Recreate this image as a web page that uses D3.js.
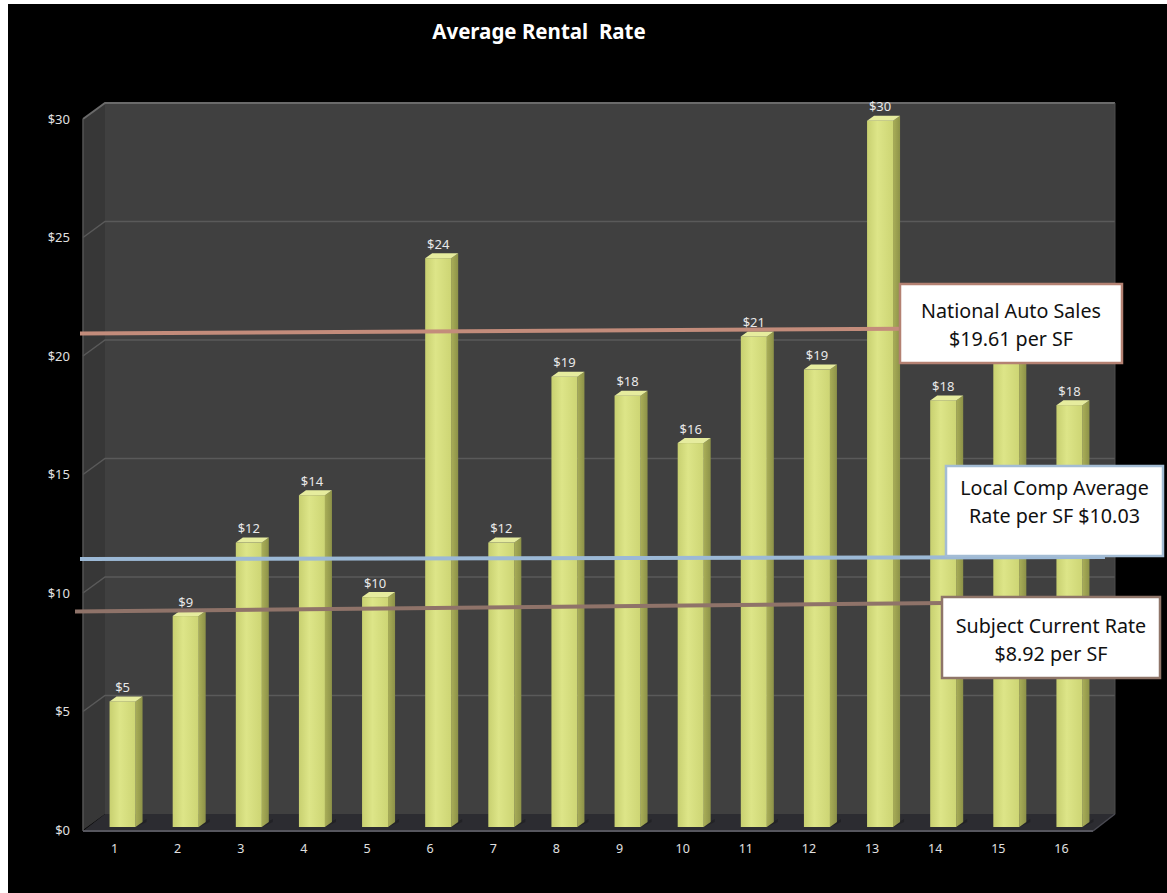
<!DOCTYPE html>
<html>
<head>
<meta charset="utf-8">
<script src="https://cdn.jsdelivr.net/npm/d3@7"></script>
<style>
  html, body { margin: 0; padding: 0; background: #ffffff; }
  svg { display: block; }
</style>
</head>
<body>
<svg id="chart" width="1167" height="893"></svg>
<script>
// ---------------- DATA ----------------
const title = "Average Rental  Rate";
const categories = ["1","2","3","4","5","6","7","8","9","10","11","12","13","14","15","16"];
const rentalRates = [5.3, 8.9, 12.0, 14.0, 9.7, 24.0, 12.0, 19.0, 18.2, 16.2, 20.7, 19.3, 29.8, 18.0, 20.3, 17.8];
const yTickValues = [0, 5, 10, 15, 20, 25, 30];
// annotation lines (hand-drawn in the original, so their value at left/right end)
const annotationNames = ["national", "local", "subject"];
const annotationText = [
  ["National Auto Sales", "$19.61 per SF"],
  ["Local Comp Average", "Rate per SF $10.03"],
  ["Subject Current Rate", "$8.92 per SF"]
];
const annotationLineStart = [20.95, 11.43, 9.22];
const annotationLineEnd = [21.15, 11.52, 9.58];

// ---------------- LAYOUT ----------------
const svg = d3.select("#chart");
const W = 1167, H = 893;
const font = "'Noto Sans', 'Open Sans', sans-serif";

svg.append("rect").attr("x", 8).attr("y", 4).attr("width", W - 8).attr("height", H - 4).attr("fill", "#000");

const x = d3.scaleBand().domain(categories).range([83, 1093]).paddingInner(0).paddingOuter(0);
const y = d3.scaleLinear().domain([0, 30]).range([830, 119]);
const DX = 22, DY = -16;          // depth offset for back wall
const right = 1093;

const boxStyle = {
  national: { color: "#c38c7b", x1: 80, x2: 902, box: [900, 284, 222, 79], border: "#b48172", base: 318 },
  local:    { color: "#9cb9d6", x1: 80, x2: 1105, box: [946, 466, 217, 90], border: "#a3bcd4", base: 495 },
  subject:  { color: "#8f7369", x1: 75, x2: 944, box: [942, 597, 218, 81], border: "#8f7569", base: 633 }
};

const defs = svg.append("defs");
const gFront = defs.append("linearGradient").attr("id", "barFront").attr("x1", 0).attr("x2", 1).attr("y1", 0).attr("y2", 0);
gFront.append("stop").attr("offset", "0%").attr("stop-color", "#c8d070");
gFront.append("stop").attr("offset", "40%").attr("stop-color", "#dde588");
gFront.append("stop").attr("offset", "100%").attr("stop-color", "#cdd574");
const gSide = defs.append("linearGradient").attr("id", "barSide").attr("x1", 0).attr("x2", 1).attr("y1", 0).attr("y2", 0);
gSide.append("stop").attr("offset", "0%").attr("stop-color", "#a9ae58");
gSide.append("stop").attr("offset", "100%").attr("stop-color", "#8d9248");

// side wall
svg.append("polygon")
  .attr("points", [[83, y(30)], [83 + DX, y(30) + DY], [83 + DX, y(0) + DY], [83, y(0)]].map(p => p.join(",")).join(" "))
  .attr("fill", "#373737");
// back wall
svg.append("rect")
  .attr("x", 83 + DX).attr("y", y(30) + DY)
  .attr("width", right - 83).attr("height", y(0) - y(30))
  .attr("fill", "#404040");
// floor
svg.append("polygon")
  .attr("points", [[83, y(0) + 1], [83 + DX, y(0) + DY], [right + DX, y(0) + DY], [right, y(0) + 1]].map(p => p.join(",")).join(" "))
  .attr("fill", "#2c2c31");

// gridlines (side + back)
const grid = svg.append("g");
yTickValues.filter(t => t > 0).forEach(t => {
  grid.append("polyline")
    .attr("points", [[83, y(t)], [83 + DX, y(t) + DY], [right + DX, y(t) + DY]].map(p => p.join(",")).join(" "))
    .attr("fill", "none")
    .attr("stroke", t === 30 ? "#6a6a6a" : "#5a5a5a")
    .attr("stroke-width", t === 30 ? 2 : 1.5);
});
svg.append("line").attr("x1", 83).attr("x2", 83).attr("y1", y(30)).attr("y2", y(0) + 1)
  .attr("stroke", "#555").attr("stroke-width", 1.5);
svg.append("line").attr("x1", 83).attr("x2", right).attr("y1", y(0) + 1).attr("y2", y(0) + 1)
  .attr("stroke", "#56565e").attr("stroke-width", 2);
svg.append("line").attr("x1", right).attr("x2", right + DX).attr("y1", y(0) + 1).attr("y2", y(0) + DY)
  .attr("stroke", "#4a4a52").attr("stroke-width", 1.5);
svg.append("line").attr("x1", right + DX).attr("x2", right + DX).attr("y1", y(30) + DY).attr("y2", y(0) + DY)
  .attr("stroke", "#4c4c4c").attr("stroke-width", 1);

// ---------------- BARS ----------------
const BW = 26, BD = 7, BR = 5, BOFF = 8, BY = -3;
const covered = (px, py) => Object.values(boxStyle).some(s => {
  const [bx, by, bw, bh] = s.box;
  return px > bx - 15 && px < bx + bw + 15 && py > by - 8 && py < by + bh + 8;
});
const bars = svg.append("g").selectAll("g").data(rentalRates.map((v, i) => ({ c: categories[i], v })))
  .join("g");
bars.each(function(d) {
  const g = d3.select(this);
  const xc = x(d.c) + x.bandwidth() / 2 + BOFF;
  const x0 = xc - BW / 2;
  const yt = y(d.v) + BY, yb = y(0) + BY;
  g.append("polygon")
    .attr("points", [[x0 + BW, yb], [x0 + BW + BD + 4, yb - BR], [x0 + BW + BD + 4, yb - BR - 3], [x0 + BW, yb - 2]].map(p => p.join(",")).join(" "))
    .attr("fill", "#222226");
  g.append("polygon")
    .attr("points", [[x0 + BW, yt], [x0 + BW + BD, yt - BR], [x0 + BW + BD, yb - BR], [x0 + BW, yb]].map(p => p.join(",")).join(" "))
    .attr("fill", "url(#barSide)");
  g.append("rect").attr("x", x0).attr("y", yt).attr("width", BW).attr("height", yb - yt)
    .attr("fill", "url(#barFront)");
  g.append("polygon")
    .attr("points", [[x0, yt], [x0 + BD, yt - BR], [x0 + BW + BD, yt - BR], [x0 + BW, yt]].map(p => p.join(",")).join(" "))
    .attr("fill", "#e6ec9e");
  // data label (hidden in the original where an annotation box covers it)
  if (!covered(xc, yt - 12)) {
    g.append("text")
      .attr("x", xc).attr("y", yt - 13)
      .attr("text-anchor", "middle").attr("dominant-baseline", "middle")
      .attr("font-family", font).attr("font-size", 13).attr("fill", "#e8e8e8")
      .text("$" + Math.round(d.v));
  }
});

// ---------------- AXES ----------------
const yAxis = svg.append("g").attr("transform", "translate(76,0)")
  .call(d3.axisLeft(y).tickValues(yTickValues).tickSize(0).tickPadding(6).tickFormat(d => "$" + d));
yAxis.select(".domain").remove();
yAxis.selectAll("text").attr("font-family", font).attr("font-size", 13).attr("fill", "#e0e0e0");

const xAxis = svg.append("g").attr("transform", "translate(0,836)")
  .call(d3.axisBottom(x).tickSize(0).tickPadding(8));
xAxis.select(".domain").remove();
xAxis.selectAll("text").attr("font-family", font).attr("font-size", 12.5).attr("fill", "#e0e0e0");

// ---------------- TITLE ----------------
svg.append("text")
  .attr("x", 539).attr("y", 39)
  .attr("text-anchor", "middle")
  .style("white-space", "pre")
  .attr("font-family", font).attr("font-weight", "bold").attr("font-size", 20.5).attr("fill", "#ffffff")
  .text(title);

// ---------------- ANNOTATIONS ----------------
annotationNames.forEach((name, i) => {
  const s = boxStyle[name];
  svg.append("line")
    .attr("x1", s.x1).attr("x2", s.x2)
    .attr("y1", y(annotationLineStart[i])).attr("y2", y(annotationLineEnd[i]))
    .attr("stroke", s.color).attr("stroke-width", 4);
});
annotationNames.forEach((name, i) => {
  const s = boxStyle[name];
  const [bx, by, bw, bh] = s.box;
  svg.append("rect").attr("x", bx).attr("y", by).attr("width", bw).attr("height", bh)
    .attr("fill", "#ffffff").attr("stroke", s.border).attr("stroke-width", 2.5);
  const t = svg.append("text")
    .attr("text-anchor", "middle")
    .attr("font-family", font).attr("font-size", 19.7).attr("fill", "#111");
  annotationText[i].forEach((line, j) => {
    t.append("tspan").attr("x", bx + bw / 2).attr("y", s.base + j * 27.5).text(line);
  });
});
</script>
</body>
</html>
